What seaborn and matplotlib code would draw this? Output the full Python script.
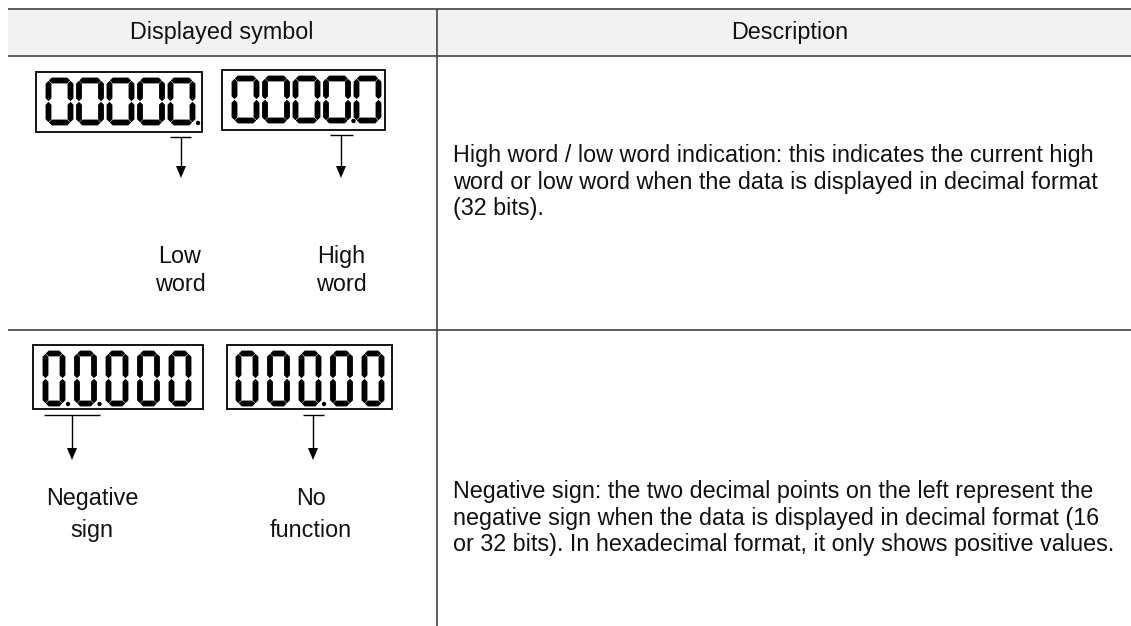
import matplotlib
matplotlib.use("Agg")
import matplotlib.pyplot as plt
from matplotlib.patches import Polygon, Rectangle, Circle
import seaborn as sns

sns.set_theme(style="white")
plt.rcParams['font.family'] = ['Liberation Sans', 'DejaVu Sans']

# ---------------- content ----------------
headers = ["Displayed symbol", "Description"]
row1_displays = ["00000.", "0000.0"]
row2_displays = ["0.0.000", "000.00"]
row1_labels = ["Low\nword", "High\nword"]
row2_labels = ["Negative\nsign", "No\nfunction"]
row1_desc = ["High word / low word indication: this indicates the current high",
             "word or low word when the data is displayed in decimal format",
             "(32 bits)."]
row2_desc = ["Negative sign: the two decimal points on the left represent the",
             "negative sign when the data is displayed in decimal format (16",
             "or 32 bits). In hexadecimal format, it only shows positive values."]

# ---------------- layout ----------------
W, H = 1131, 626
FS = 16.8
LINE = '#3c3c3c'
PX = 0.72  # points per pixel at dpi 100

fig = plt.figure(figsize=(W / 100, H / 100), dpi=100)
ax = fig.add_axes([0, 0, 1, 1])
ax.set_xlim(0, W)
ax.set_ylim(H, 0)
ax.axis('off')

# table frame
ax.add_patch(Rectangle((8, 9), W - 8, 47, fc='#f2f2f2', ec='none', zorder=0))
for y in (9, 56, 330):
    ax.plot([8, W], [y, y], color=LINE, lw=1.6 * PX, solid_capstyle='butt', zorder=1)
ax.plot([437, 437], [9, H], color=LINE, lw=1.6 * PX, solid_capstyle='butt', zorder=1)

ax.text(222, 33, headers[0], ha='center', va='center', fontsize=FS, color='#111111')
ax.text(790, 33, headers[1], ha='center', va='center', fontsize=FS, color='#111111')


def parse(s):
    out = []
    for ch in s:
        if ch == '.':
            out[-1][1] = True
        else:
            out.append([ch, False])
    return out


def hseg(x0, x1, yc, t):
    return [(x0, yc), (x0 + t / 2, yc - t / 2), (x1 - t / 2, yc - t / 2),
            (x1, yc), (x1 - t / 2, yc + t / 2), (x0 + t / 2, yc + t / 2)]


def vseg(xc, y0, y1, t):
    return [(xc, y0), (xc + t / 2, y0 + t / 2), (xc + t / 2, y1 - t / 2),
            (xc, y1), (xc - t / 2, y1 - t / 2), (xc - t / 2, y0 + t / 2)]


def draw_digit(xl, yt, w, h, t, dp):
    g = 0.9
    xL = xl + t / 2
    xR = xl + w - t / 2
    yT = yt + t / 2
    yM = yt + h / 2
    yB = yt + h - t / 2
    segs = [hseg(xL + g, xR - g, yT, t), hseg(xL + g, xR - g, yB, t),
            vseg(xL, yT + g, yM - g, t), vseg(xR, yT + g, yM - g, t),
            vseg(xL, yM + g, yB - g, t), vseg(xR, yM + g, yB - g, t)]
    for s in segs:
        ax.add_patch(Polygon(s, closed=True, fc='black', ec='black', lw=0.6,
                             joinstyle='round', zorder=3))
    if dp:
        ax.add_patch(Circle((xl + w + 3, yt + h - 2), 2.2, fc='black', ec='none', zorder=3))


def draw_display(text, box, x0, pitch, w, h, top, t):
    bx0, by0, bx1, by1 = box
    ax.add_patch(Rectangle((bx0, by0), bx1 - bx0, by1 - by0, fc='white',
                           ec='black', lw=1.8 * PX, zorder=2))
    for i, (ch, dp) in enumerate(parse(text)):
        draw_digit(x0 + i * pitch, top, w, h, t, dp)


def draw_marker(x0, x1, y, xa, tip):
    ax.plot([x0, x1], [y, y], color='black', lw=1.4 * PX, solid_capstyle='butt', zorder=3)
    ax.plot([xa, xa], [y, tip - 10], color='black', lw=1.4 * PX, solid_capstyle='butt', zorder=3)
    ax.add_patch(Polygon([(xa - 5, tip - 12), (xa + 5, tip - 12), (xa, tip)],
                         closed=True, fc='black', ec='none', zorder=3))


# row 1 displays
draw_display(row1_displays[0], (36, 72, 202, 132), 46, 30.5, 27, 47, 78, 5.0)
draw_display(row1_displays[1], (222, 70, 385, 130), 232, 30.5, 27, 47, 76, 5.0)
draw_marker(170, 191, 137, 181, 178)
draw_marker(330, 353, 135, 341, 178)

# row 2 displays
draw_display(row2_displays[0], (33, 345, 203, 409), 43, 31.5, 22, 55, 351, 5.0)
draw_display(row2_displays[1], (227, 345, 392, 409), 236, 31.5, 22, 55, 351, 5.0)
draw_marker(44, 100, 415, 72, 460)
draw_marker(303, 324, 415, 313, 460)

# labels under arrows
def two_line(xc, yb1, gap, txt):
    for k, line in enumerate(txt.split('\n')):
        ax.text(xc, yb1 + k * gap, line, ha='center', va='baseline',
                fontsize=FS, color='#111111')


two_line(180, 263, 28, row1_labels[0])
two_line(341, 263, 28, row1_labels[1])
two_line(92, 505, 32, row2_labels[0])
two_line(311, 505, 32, row2_labels[1])

# descriptions
for k, line in enumerate(row1_desc):
    ax.text(453, 162 + k * 26.5, line, ha='left', va='baseline', fontsize=FS, color='#111111')
for k, line in enumerate(row2_desc):
    ax.text(453, 498 + k * 26.5, line, ha='left', va='baseline', fontsize=FS, color='#111111')

fig.savefig('out.png', dpi=100)
